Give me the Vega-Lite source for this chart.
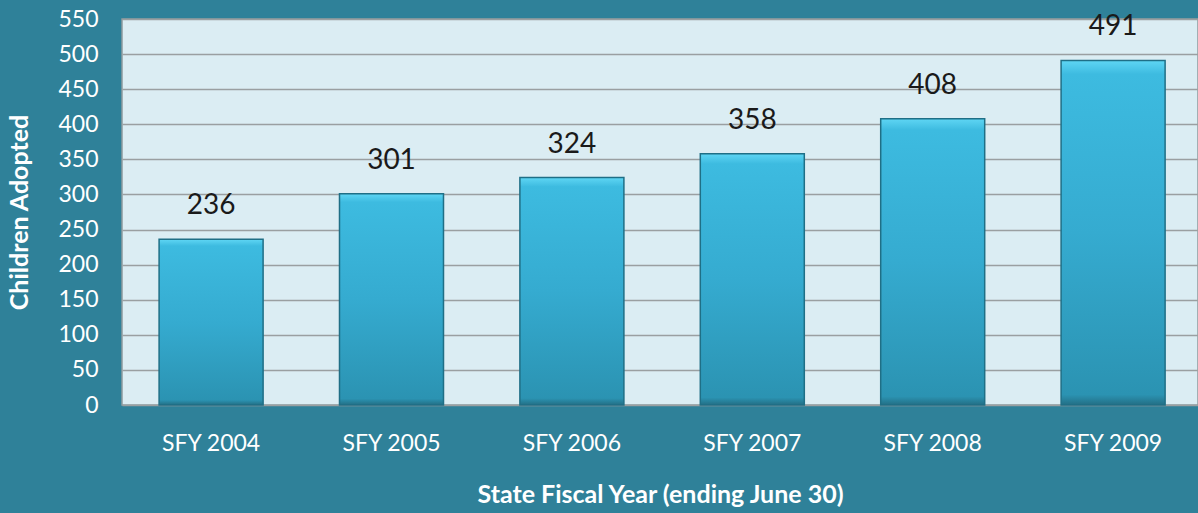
{
  "$schema": "https://vega.github.io/schema/vega-lite/v6.json",
  "autosize": {"type": "none"},
  "width": 1076,
  "height": 386,
  "padding": {"left": 122, "top": 19, "right": 0, "bottom": 108},
  "background": "#2f8199",
  "config": {
    "view": {"fill": "#dbedf3", "stroke": "#8f9a9e", "strokeWidth": 1.5},
    "font": "Lato"
  },
  "data": {
    "values": [
      {"year": "SFY 2004", "adopted": 236},
      {"year": "SFY 2005", "adopted": 301},
      {"year": "SFY 2006", "adopted": 324},
      {"year": "SFY 2007", "adopted": 358},
      {"year": "SFY 2008", "adopted": 408},
      {"year": "SFY 2009", "adopted": 491}
    ]
  },
  "encoding": {
    "x": {
      "field": "year",
      "type": "nominal",
      "sort": null,
      "scale": {"paddingInner": 0.4235, "paddingOuter": 0.194, "align": 0.53},
      "axis": {
        "title": "State Fiscal Year (ending June 30)",
        "labelAngle": 0,
        "labelFont": "Lato",
        "labelFontSize": 23,
        "labelColor": "#ffffff",
        "labelPadding": 27,
        "ticks": false,
        "domain": false,
        "titleFont": "Lato",
        "titleFontSize": 25,
        "titleFontWeight": "bold",
        "titleColor": "#ffffff",
        "titlePadding": 27
      }
    },
    "y": {
      "field": "adopted",
      "type": "quantitative",
      "scale": {"domain": [0, 550], "nice": false},
      "axis": {
        "title": "Children Adopted",
        "values": [0, 50, 100, 150, 200, 250, 300, 350, 400, 450, 500, 550],
        "labelFont": "Lato",
        "labelFontSize": 23,
        "labelColor": "#ffffff",
        "labelPadding": 24,
        "ticks": false,
        "domain": false,
        "grid": true,
        "gridColor": "#9a9fa1",
        "gridWidth": 1.5,
        "titleFont": "Lato",
        "titleFontSize": 25,
        "titleFontWeight": "bold",
        "titleColor": "#ffffff",
        "titlePadding": 25
      }
    }
  },
  "layer": [
    {
      "mark": {
        "type": "bar",
        "stroke": "#1f6f86",
        "strokeWidth": 1.5,
        "color": {
          "gradient": "linear",
          "x1": 0, "y1": 0, "x2": 0, "y2": 1,
          "stops": [
            {"offset": 0, "color": "#5fd6f4"},
            {"offset": 0.04, "color": "#3dbbe0"},
            {"offset": 0.5, "color": "#35abd0"},
            {"offset": 0.97, "color": "#2b93b2"},
            {"offset": 1, "color": "#236f85"}
          ]
        }
      }
    },
    {
      "mark": {
        "type": "text",
        "baseline": "alphabetic",
        "dy": -25,
        "fontSize": 28,
        "font": "Lato",
        "color": "#1a1a1a"
      },
      "encoding": {"text": {"field": "adopted", "type": "quantitative"}}
    }
  ]
}
